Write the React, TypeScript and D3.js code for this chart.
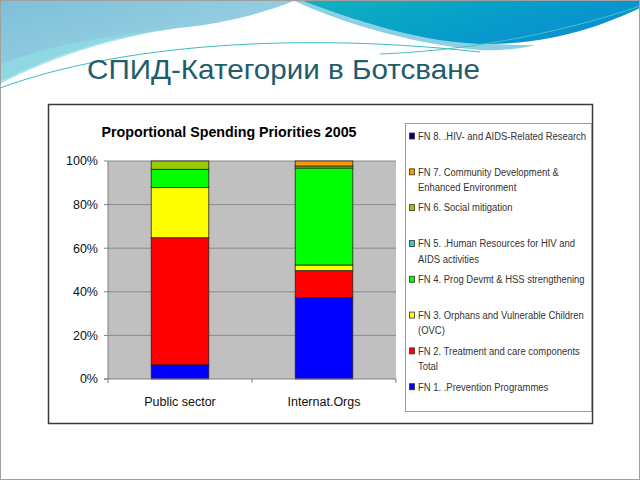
import * as d3 from "d3";

// Chart data (percent of spending per category)
const categories = ["Public sector", "Internat.Orgs"];

const fnKeys = ["FN1", "FN2", "FN3", "FN4", "FN5", "FN6", "FN7", "FN8"];

const fn1 = [6.5, 37.3];
const fn2 = [58.3, 12.4];
const fn3 = [23.0, 2.6];
const fn4 = [8.4, 44.5];
const fn5 = [0, 0];
const fn6 = [3.8, 0.9];
const fn7 = [0, 2.3];
const fn8 = [0, 0];

const seriesValues = [fn1, fn2, fn3, fn4, fn5, fn6, fn7, fn8];

const seriesColors = [
  "#0000ff", "#ff0000", "#ffff00", "#00ff00",
  "#33cccc", "#99cc00", "#ff9900", "#000080",
];

// legend is listed top-down FN8 .. FN1, each entry can wrap on two lines
const legendLabels = [
  ["FN 8. .HIV- and AIDS-Related Research"],
  ["FN 7. Community Development &", "Enhanced Environment"],
  ["FN 6. Social mitigation"],
  ["FN 5. .Human Resources for HIV and", "AIDS activities"],
  ["FN 4. Prog Devmt & HSS strengthening"],
  ["FN 3. Orphans and Vulnerable Children", "(OVC)"],
  ["FN 2. Treatment and care components", "Total"],
  ["FN 1. .Prevention Programmes"],
];

const yTicks = [0, 0.2, 0.4, 0.6, 0.8, 1];

const W = 640;
const H = 480;

export default function App() {
  const rows = categories.map((c, i) => {
    const r: Record<string, any> = { category: c };
    fnKeys.forEach((k, j) => (r[k] = seriesValues[j][i]));
    return r;
  });

  const stack = d3.stack<any>().keys(fnKeys).offset(d3.stackOffsetExpand);
  const stacked = stack(rows);

  const plot = { left: 108, right: 396, top: 161, bottom: 379 };

  const x = d3
    .scaleBand<string>()
    .domain(categories)
    .range([plot.left, plot.right])
    .paddingInner(0.6)
    .paddingOuter(0.3);

  const y = d3.scaleLinear().domain([0, 1]).range([plot.bottom, plot.top]);

  const fmt = d3.format(".0%");
  const step = x.step();
  const catTicks = d3.range(categories.length + 1).map((i) => plot.left + i * step);

  const legendY = d3
    .scaleLinear()
    .domain([0, legendLabels.length - 1])
    .range([136, 386.7]);

  const font = "Arial, 'Liberation Sans', sans-serif";

  return (
    <svg
      width={W}
      height={H}
      style={{ position: "absolute", left: 0, top: 0, background: "#fff" }}
      fontFamily={font}
    >
      <defs>
        <linearGradient id="lightBlue" x1="0" y1="0" x2="1" y2="1">
          <stop offset="0%" stopColor="#7cc0d8" />
          <stop offset="100%" stopColor="#aad9ea" />
        </linearGradient>
        <linearGradient id="darkTeal" x1="0" y1="0" x2="1" y2="0.4">
          <stop offset="0%" stopColor="#14b2be" />
          <stop offset="55%" stopColor="#05a0c8" />
          <stop offset="100%" stopColor="#0b8fd2" />
        </linearGradient>
      </defs>

      {/* slide header decoration */}
      <path d="M0,0 H296 C 262,14 222,24 178,28 C 110,36 50,56 0,82 Z" fill="url(#lightBlue)" />
      <path d="M0,64 C 50,46 100,36 178,28 C 110,38 50,58 0,84 Z" fill="#8fdbe3" opacity={0.75} />
      <path
        d="M292,0 C 340,22 410,44 480,50 C 500,51 520,49 535,45 C 460,46 400,34 300,0 Z"
        fill="#8ed0e3"
      />
      <path d="M300,0 C 350,18 420,44 490,44 C 560,43 610,22 640,8 V0 Z" fill="url(#darkTeal)" />
      <path d="M0,88 C 120,44 300,32 480,52" fill="none" stroke="#3bbcbf" strokeWidth={1} />
      <path d="M380,54 C 480,50 570,30 640,6" fill="none" stroke="#45c2c0" strokeWidth={1} />

      <text x={87} y={79} fontSize={28.5} fill="#1e5c6e" textLength={393} lengthAdjust="spacingAndGlyphs">
        СПИД-Категории в Ботсване
      </text>

      {/* chart frame */}
      <rect x={48.5} y={104.5} width={544} height={319} fill="#fff" stroke="#3a3a3a" strokeWidth={1.5} />

      <text x={229} y={137} fontSize={15} fontWeight="bold" textAnchor="middle" fill="#000" textLength={255} lengthAdjust="spacingAndGlyphs">
        Proportional Spending Priorities 2005
      </text>

      {/* plot area */}
      <rect x={plot.left} y={plot.top} width={plot.right - plot.left} height={plot.bottom - plot.top} fill="#c0c0c0" />
      {yTicks.slice(1).map((t) => (
        <line key={t} x1={plot.left} x2={plot.right} y1={y(t)} y2={y(t)} stroke="#8a8a8a" strokeWidth={1} />
      ))}

      {/* bars */}
      {stacked.map((s, si) =>
        s.map((d, i) => {
          const h = y(d[0]) - y(d[1]);
          if (h <= 0) return null;
          return (
            <rect
              key={`${si}-${i}`}
              x={x(categories[i])}
              y={y(d[1])}
              width={x.bandwidth()}
              height={h}
              fill={seriesColors[si]}
              stroke="#222"
              strokeWidth={0.8}
            />
          );
        })
      )}

      {/* axes */}
      <line x1={plot.left} x2={plot.left} y1={plot.top} y2={plot.bottom} stroke="#808080" />
      <line x1={plot.left - 4} x2={plot.right} y1={plot.bottom} y2={plot.bottom} stroke="#808080" />
      {yTicks.map((t) => (
        <g key={t}>
          <line x1={plot.left - 4} x2={plot.left} y1={y(t)} y2={y(t)} stroke="#808080" />
          <text x={98} y={y(t)} dy="0.35em" fontSize={12.5} textAnchor="end" fill="#111">
            {fmt(t)}
          </text>
        </g>
      ))}
      {catTicks.map((t) => (
        <line key={t} x1={t} x2={t} y1={plot.bottom} y2={plot.bottom + 4} stroke="#808080" />
      ))}
      {categories.map((c) => (
        <text key={c} x={(x(c) || 0) + x.bandwidth() / 2} y={406} fontSize={12.5} textAnchor="middle" fill="#111">
          {c}
        </text>
      ))}

      {/* legend */}
      <rect x={405.5} y={123.5} width={186} height={288} fill="#fff" stroke="#9a9a9a" />
      {legendLabels.map((lines, i) => {
        const si = fnKeys.length - 1 - i;
        const ly = legendY(i);
        return (
          <g key={i}>
            <rect x={409.5} y={ly - 3} width={5} height={6} fill={seriesColors[si]} stroke="#333" strokeWidth={0.8} />
            <g transform={`translate(418,0) scale(0.86,1)`}>
              {lines.map((ln, li) => (
                <text key={li} x={0} y={ly + li * 15.5} dy="0.35em" fontSize={11} fill="#333">
                  {ln}
                </text>
              ))}
            </g>
          </g>
        );
      })}

      {/* slide border */}
      <rect x={0.5} y={0.5} width={W - 1} height={H - 1} fill="none" stroke="#a0a0a0" />
    </svg>
  );
}
